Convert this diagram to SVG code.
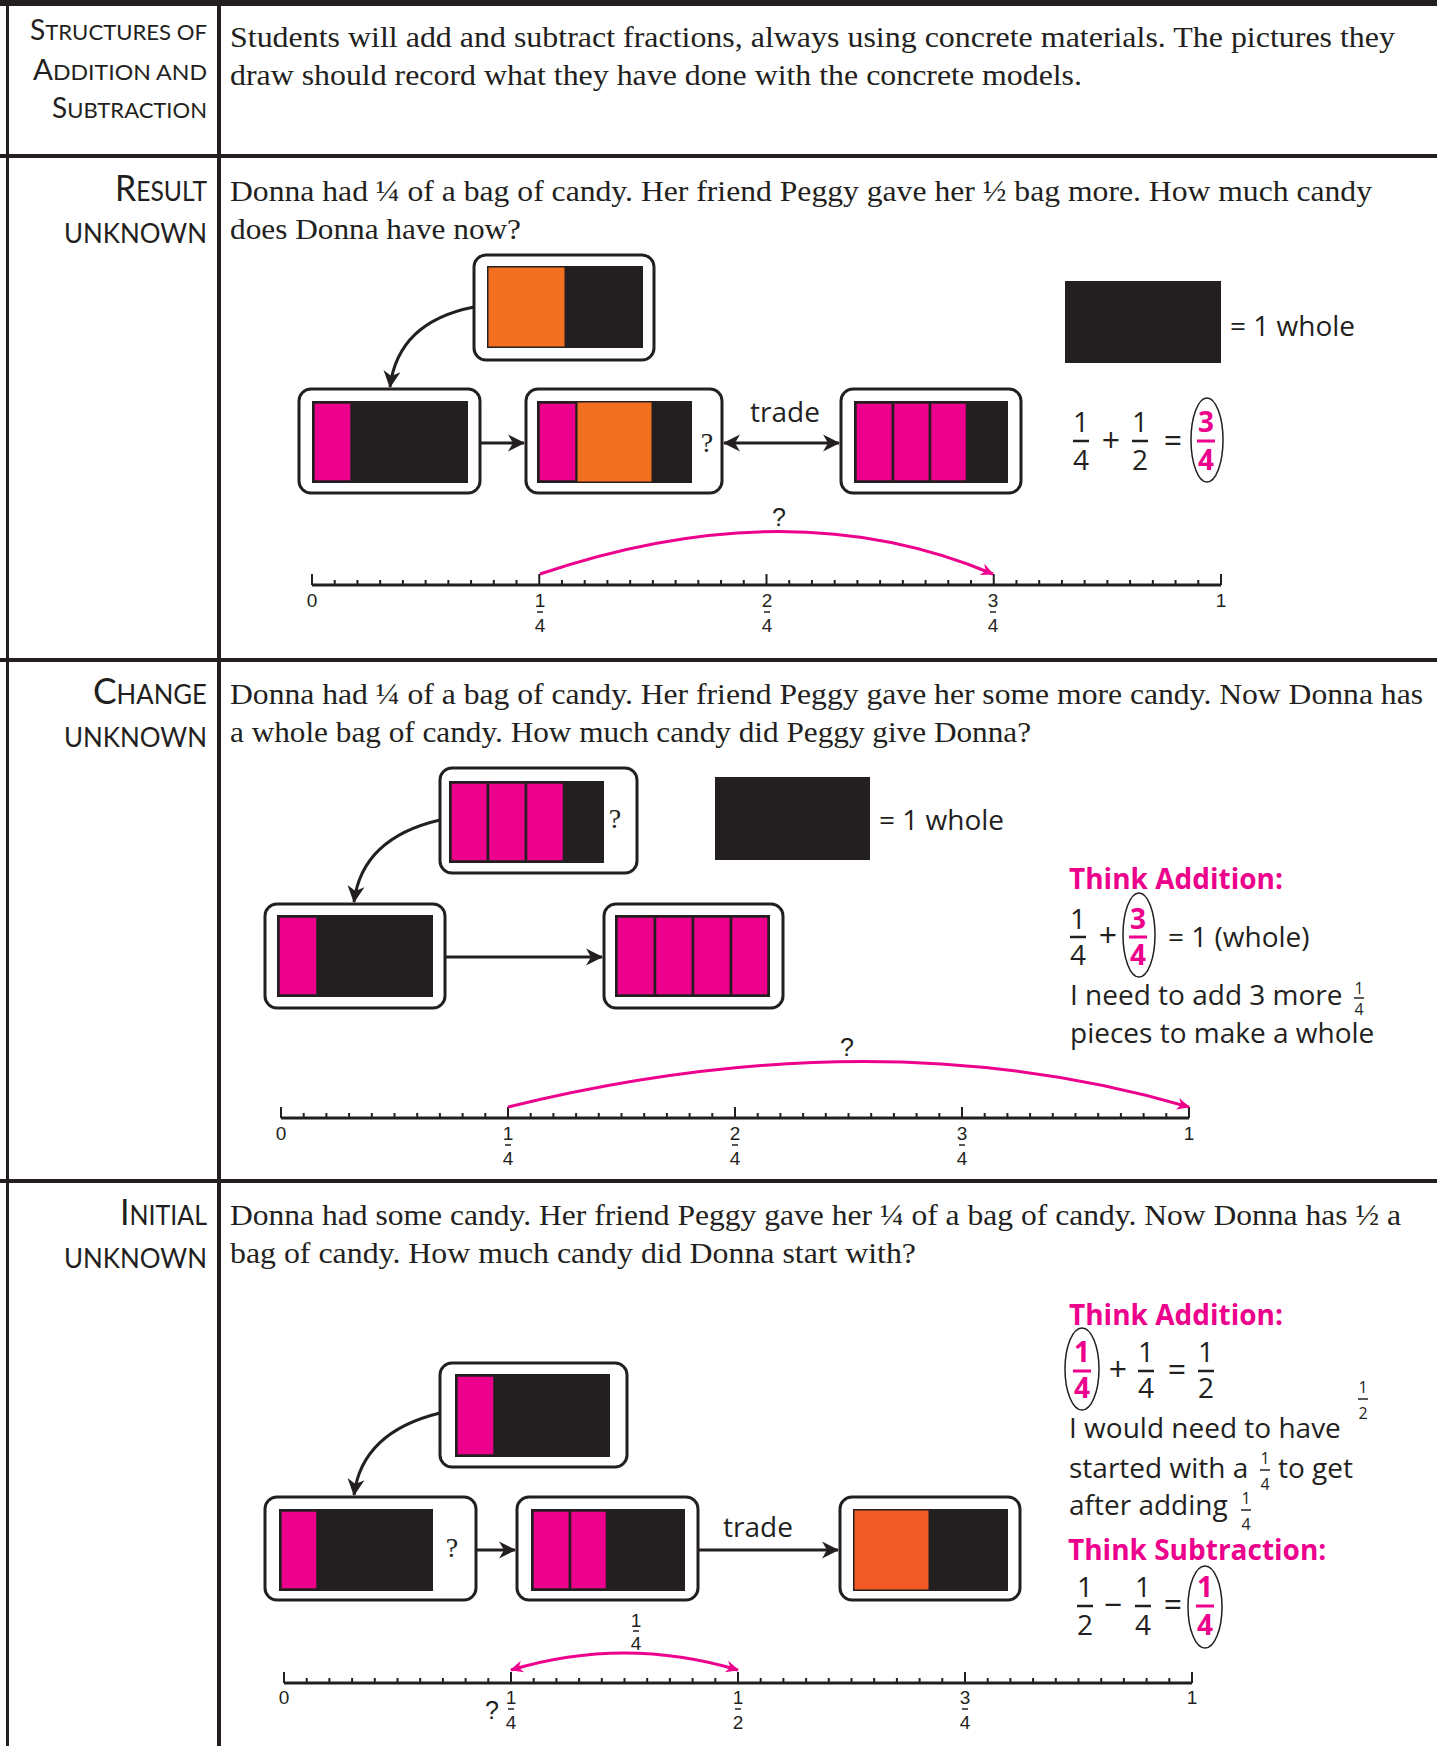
<svg xmlns="http://www.w3.org/2000/svg" width="1437" height="1746" viewBox="0 0 1437 1746">
  <style>
    .serif { font-family: "Liberation Serif", serif; font-size: 30px; fill: #231f20; }
    .lbl { font-family: Lato, "Liberation Sans", sans-serif; fill: #231f20; }
    .big { font-size: 37px; }
    .sc { font-size: 27px; }
    .hbig { font-size: 28px; }
    .hsc { font-size: 22px; }
    .sans { font-family: "Open Sans", "Noto Sans", sans-serif; font-size: 28px; fill: #231f20; }
    .frac { font-family: "Open Sans", "Noto Sans", sans-serif; font-size: 28px; fill: #231f20; text-anchor: middle; }
    .op { font-family: "Open Sans", "Noto Sans", sans-serif; font-size: 32px; fill: #231f20; text-anchor: middle; }
    .pfrac { font-family: "Open Sans", "Noto Sans", sans-serif; font-size: 28px; font-weight: 700; fill: #ec008c; text-anchor: middle; }
    .sfrac { font-family: "Open Sans", "Noto Sans", sans-serif; font-size: 16px; fill: #231f20; text-anchor: middle; }
    .head { font-family: "Open Sans", "Noto Sans", sans-serif; font-size: 28px; font-weight: 700; fill: #ec008c; }
    .nl { font-family: "Liberation Sans", sans-serif; font-size: 19px; fill: #231f20; text-anchor: middle; }
    .q { font-family: "Liberation Sans", sans-serif; font-size: 25px; fill: #231f20; text-anchor: middle; }
    .qs { font-family: "Liberation Serif", serif; font-size: 28px; fill: #231f20; text-anchor: middle; }
    .box { fill: #ffffff; stroke: #231f20; stroke-width: 3; }
    .blk { fill: #231f20; }
    .pk { fill: #ec008c; stroke: #231f20; stroke-width: 2.5; }
    .or { fill: #f37021; }
    .or2 { fill: #f15a24; }
    .bar { stroke: #231f20; stroke-width: 2.5; }
    .pbar { stroke: #ec008c; stroke-width: 3; }
    .sbar { stroke: #231f20; stroke-width: 1.5; }
    .ring { fill: none; stroke: #231f20; stroke-width: 1.5; }
    .rule { stroke: #231f20; fill: none; }
    .conn { stroke: #231f20; stroke-width: 3; fill: none; }
    .arc { stroke: #ec008c; stroke-width: 3; fill: none; }
    .axis { stroke: #231f20; stroke-width: 3; fill: none; }
    .tick { stroke: #231f20; stroke-width: 2; fill: none; }
  </style>
  <defs>
    <marker id="ah" viewBox="-18 -10 20 20" refX="0" refY="0" markerWidth="20" markerHeight="20" markerUnits="userSpaceOnUse" orient="auto-start-reverse">
      <path d="M1,0 L-16,-8.5 L-11,0 L-16,8.5 Z" fill="#231f20"/>
    </marker>
    <marker id="ahp" viewBox="-14 -8 16 16" refX="0" refY="0" markerWidth="16" markerHeight="16" markerUnits="userSpaceOnUse" orient="auto-start-reverse">
      <path d="M1,0 L-12,-6 L-8,0 L-12,6 Z" fill="#ec008c"/>
    </marker>
  </defs>

  <rect width="1437" height="1746" fill="#ffffff"/>

  <!-- table frame -->
  <g id="table">
    <rect x="0" y="0" width="1437" height="6" class="blk"/>
    <line x1="7.5" y1="0" x2="7.5" y2="1746" class="rule" stroke-width="3"/>
    <line x1="219" y1="0" x2="219" y2="1746" class="rule" stroke-width="4"/>
    <line x1="0" y1="156" x2="1437" y2="156" class="rule" stroke-width="4"/>
    <line x1="0" y1="660" x2="1437" y2="660" class="rule" stroke-width="4"/>
    <line x1="0" y1="1181" x2="1437" y2="1181" class="rule" stroke-width="4"/>
  </g>

  <!-- row labels -->
  <g id="labels" class="lbl" text-anchor="end">
    <text x="207" y="40" textLength="177" lengthAdjust="spacingAndGlyphs"><tspan class="hbig">S</tspan><tspan class="hsc">TRUCTURES OF</tspan></text>
    <text x="207" y="80" textLength="174" lengthAdjust="spacingAndGlyphs"><tspan class="hbig">A</tspan><tspan class="hsc">DDITION AND</tspan></text>
    <text x="207" y="118" textLength="155" lengthAdjust="spacingAndGlyphs"><tspan class="hbig">S</tspan><tspan class="hsc">UBTRACTION</tspan></text>
    <text x="207" y="201" textLength="92" lengthAdjust="spacingAndGlyphs"><tspan class="big">R</tspan><tspan class="sc">ESULT</tspan></text>
    <text x="207" y="243" class="sc" textLength="143" lengthAdjust="spacingAndGlyphs">UNKNOWN</text>
    <text x="207" y="704" textLength="114" lengthAdjust="spacingAndGlyphs"><tspan class="big">C</tspan><tspan class="sc">HANGE</tspan></text>
    <text x="207" y="747" class="sc" textLength="143" lengthAdjust="spacingAndGlyphs">UNKNOWN</text>
    <text x="207" y="1225" textLength="87" lengthAdjust="spacingAndGlyphs"><tspan class="big">I</tspan><tspan class="sc">NITIAL</tspan></text>
    <text x="207" y="1268" class="sc" textLength="143" lengthAdjust="spacingAndGlyphs">UNKNOWN</text>
  </g>

  <!-- story texts -->
  <g id="stories" class="serif">
    <text x="230" y="47" textLength="1165" lengthAdjust="spacingAndGlyphs">Students will add and subtract fractions, always using concrete materials.  The pictures they</text>
    <text x="230" y="85" textLength="852" lengthAdjust="spacingAndGlyphs">draw should record what they have done with the concrete models.</text>
    <text x="230" y="201" textLength="1142" lengthAdjust="spacingAndGlyphs">Donna had ¼ of a bag of candy. Her friend Peggy gave her ½ bag more. How much candy</text>
    <text x="230" y="239" textLength="291" lengthAdjust="spacingAndGlyphs">does Donna have now?</text>
    <text x="230" y="704" textLength="1193" lengthAdjust="spacingAndGlyphs">Donna had ¼ of a bag of candy. Her friend Peggy gave her some more candy. Now Donna has</text>
    <text x="230" y="742" textLength="801" lengthAdjust="spacingAndGlyphs">a whole bag of candy. How much candy did Peggy give Donna?</text>
    <text x="230" y="1225" textLength="1171" lengthAdjust="spacingAndGlyphs">Donna had some candy. Her friend Peggy gave her ¼ of a bag of candy. Now Donna has ½ a</text>
    <text x="230" y="1263" textLength="686" lengthAdjust="spacingAndGlyphs">bag of candy. How much candy did Donna start with?</text>
  </g>

  <!-- ===== Result unknown ===== -->
  <g id="r2-half">
    <rect x="474" y="255" width="180" height="105" rx="12" class="box"/>
    <rect x="487" y="266" width="156" height="82" class="blk"/>
    <rect x="488.5" y="267.5" width="76" height="79" class="or"/>
  </g>
  <g id="r2-start">
    <rect x="299" y="389" width="181" height="104" rx="12" class="box"/>
    <rect x="312" y="401" width="156" height="82" class="blk"/>
    <rect x="313.5" y="402.5" width="38" height="79" class="pk"/>
  </g>
  <g id="r2-sum">
    <rect x="526" y="389" width="196" height="104" rx="12" class="box"/>
    <rect x="537" y="401" width="155" height="82" class="blk"/>
    <rect x="538.5" y="402.5" width="38" height="79" class="pk"/>
    <rect x="577.5" y="402.5" width="74" height="79" class="or"/>
    <text x="707" y="452" class="qs">?</text>
  </g>
  <g id="r2-traded">
    <rect x="841" y="389" width="180" height="104" rx="12" class="box"/>
    <rect x="854" y="401" width="154" height="82" class="blk"/>
    <rect x="855.5" y="402.5" width="37.5" height="79" class="pk"/>
    <rect x="893" y="402.5" width="37" height="79" class="pk"/>
    <rect x="930" y="402.5" width="37" height="79" class="pk"/>
  </g>
  <g id="r2-whole">
    <rect x="1065" y="281" width="156" height="82" class="blk"/>
    <text x="1230" y="336" class="sans">= 1 whole</text>
  </g>
  <g id="r2-equation">
    <text x="1081" y="432" class="frac">1</text>
    <line x1="1073" y1="441" x2="1089" y2="441" class="bar"/>
    <text x="1081" y="470" class="frac">4</text>
    <text x="1111" y="452" class="op">+</text>
    <text x="1140" y="432" class="frac">1</text>
    <line x1="1132" y1="441" x2="1148" y2="441" class="bar"/>
    <text x="1140" y="470" class="frac">2</text>
    <text x="1173" y="452" class="op">=</text>
    <ellipse cx="1207" cy="440" rx="16" ry="42" class="ring"/>
    <text x="1206" y="432" class="pfrac">3</text>
    <line x1="1197" y1="441" x2="1215" y2="441" class="pbar"/>
    <text x="1206" y="470" class="pfrac">4</text>
  </g>
  <g id="r2-numberline">
    <line x1="312" y1="585" x2="1221" y2="585" class="axis"/>
    <path class="tick" d="M312,574v11m22.725,-5v5m22.725,-5v5m22.725,-5v5m22.725,-5v5m22.725,-5v5m22.725,-5v5m22.725,-5v5m22.725,-5v5m22.725,-5v5m22.725,-11v11m22.725,-5v5m22.725,-5v5m22.725,-5v5m22.725,-5v5m22.725,-5v5m22.725,-5v5m22.725,-5v5m22.725,-5v5m22.725,-5v5m22.725,-11v11m22.725,-5v5m22.725,-5v5m22.725,-5v5m22.725,-5v5m22.725,-5v5m22.725,-5v5m22.725,-5v5m22.725,-5v5m22.725,-5v5m22.725,-11v11m22.725,-5v5m22.725,-5v5m22.725,-5v5m22.725,-5v5m22.725,-5v5m22.725,-5v5m22.725,-5v5m22.725,-5v5m22.725,-5v5m22.725,-11v11"/>
    <text x="312" y="607" class="nl">0</text>
    <text x="540" y="607" class="nl">1</text>
    <line x1="537" y1="612" x2="543" y2="612" class="sbar"/>
    <text x="540" y="632" class="nl">4</text>
    <text x="767" y="607" class="nl">2</text>
    <line x1="764" y1="612" x2="770" y2="612" class="sbar"/>
    <text x="767" y="632" class="nl">4</text>
    <text x="993" y="607" class="nl">3</text>
    <line x1="990" y1="612" x2="996" y2="612" class="sbar"/>
    <text x="993" y="632" class="nl">4</text>
    <text x="1221" y="607" class="nl">1</text>
    <text x="779" y="526" class="q">?</text>
  </g>

  <!-- ===== Change unknown ===== -->
  <g id="r3-given">
    <rect x="440" y="768" width="197" height="105" rx="12" class="box"/>
    <rect x="449" y="781" width="155" height="82" class="blk"/>
    <rect x="450.5" y="782.5" width="37.5" height="79" class="pk"/>
    <rect x="488" y="782.5" width="38" height="79" class="pk"/>
    <rect x="526" y="782.5" width="38" height="79" class="pk"/>
    <text x="615" y="828" class="qs">?</text>
  </g>
  <g id="r3-start">
    <rect x="265" y="904" width="180" height="104" rx="12" class="box"/>
    <rect x="277" y="915" width="156" height="82" class="blk"/>
    <rect x="278.5" y="916.5" width="39" height="79" class="pk"/>
  </g>
  <g id="r3-result">
    <rect x="604" y="904" width="179" height="104" rx="12" class="box"/>
    <rect x="615" y="915" width="155" height="82" class="blk"/>
    <rect x="616.5" y="916.5" width="38.5" height="79" class="pk"/>
    <rect x="655" y="916.5" width="38" height="79" class="pk"/>
    <rect x="693" y="916.5" width="38" height="79" class="pk"/>
    <rect x="731" y="916.5" width="37.5" height="79" class="pk"/>
  </g>
  <g id="r3-whole">
    <rect x="715" y="777" width="155" height="83" class="blk"/>
    <text x="879" y="830" class="sans">= 1 whole</text>
  </g>
  <g id="r3-think">
    <text x="1069" y="889" class="head">Think Addition:</text>
    <text x="1078" y="929" class="frac">1</text>
    <line x1="1070" y1="937" x2="1086" y2="937" class="bar"/>
    <text x="1078" y="965" class="frac">4</text>
    <text x="1108" y="947" class="op">+</text>
    <ellipse cx="1139" cy="935" rx="16" ry="42" class="ring"/>
    <text x="1138" y="929" class="pfrac">3</text>
    <line x1="1129" y1="937" x2="1147" y2="937" class="pbar"/>
    <text x="1138" y="965" class="pfrac">4</text>
    <text x="1168" y="947" class="sans">= 1 (whole)</text>
    <text x="1070" y="1005" class="sans">I need to add 3 more</text>
    <text x="1359" y="994" class="sfrac">1</text>
    <line x1="1354" y1="998" x2="1364" y2="998" class="sbar"/>
    <text x="1359" y="1015" class="sfrac">4</text>
    <text x="1070" y="1043" class="sans">pieces to make a whole</text>
  </g>
  <g id="r3-numberline">
    <line x1="281" y1="1118" x2="1189" y2="1118" class="axis"/>
    <path class="tick" d="M281,1107v11m22.7,-5v5m22.7,-5v5m22.7,-5v5m22.7,-5v5m22.7,-5v5m22.7,-5v5m22.7,-5v5m22.7,-5v5m22.7,-5v5m22.7,-11v11m22.7,-5v5m22.7,-5v5m22.7,-5v5m22.7,-5v5m22.7,-5v5m22.7,-5v5m22.7,-5v5m22.7,-5v5m22.7,-5v5m22.7,-11v11m22.7,-5v5m22.7,-5v5m22.7,-5v5m22.7,-5v5m22.7,-5v5m22.7,-5v5m22.7,-5v5m22.7,-5v5m22.7,-5v5m22.7,-11v11m22.7,-5v5m22.7,-5v5m22.7,-5v5m22.7,-5v5m22.7,-5v5m22.7,-5v5m22.7,-5v5m22.7,-5v5m22.7,-5v5m22.7,-11v11"/>
    <text x="281" y="1140" class="nl">0</text>
    <text x="508" y="1140" class="nl">1</text>
    <line x1="505" y1="1145" x2="511" y2="1145" class="sbar"/>
    <text x="508" y="1165" class="nl">4</text>
    <text x="735" y="1140" class="nl">2</text>
    <line x1="732" y1="1145" x2="738" y2="1145" class="sbar"/>
    <text x="735" y="1165" class="nl">4</text>
    <text x="962" y="1140" class="nl">3</text>
    <line x1="959" y1="1145" x2="965" y2="1145" class="sbar"/>
    <text x="962" y="1165" class="nl">4</text>
    <text x="1189" y="1140" class="nl">1</text>
    <text x="847" y="1056" class="q">?</text>
  </g>

  <!-- ===== Initial unknown ===== -->
  <g id="r4-given">
    <rect x="440" y="1363" width="187" height="104" rx="12" class="box"/>
    <rect x="455" y="1374" width="155" height="83" class="blk"/>
    <rect x="456.5" y="1375.5" width="38" height="80" class="pk"/>
  </g>
  <g id="r4-start">
    <rect x="265" y="1497" width="211" height="103" rx="12" class="box"/>
    <rect x="279" y="1509" width="154" height="82" class="blk"/>
    <rect x="280.5" y="1510.5" width="37" height="79" class="pk"/>
    <text x="452" y="1557" class="qs">?</text>
  </g>
  <g id="r4-sum">
    <rect x="517" y="1497" width="181" height="103" rx="12" class="box"/>
    <rect x="531" y="1509" width="154" height="82" class="blk"/>
    <rect x="532.5" y="1510.5" width="37.5" height="79" class="pk"/>
    <rect x="570" y="1510.5" width="37" height="79" class="pk"/>
  </g>
  <g id="r4-traded">
    <rect x="840" y="1497" width="180" height="103" rx="12" class="box"/>
    <rect x="853" y="1509" width="155" height="82" class="blk"/>
    <rect x="854.5" y="1510.5" width="74" height="79" class="or2"/>
  </g>
  <g id="r4-think">
    <text x="1069" y="1325" class="head">Think Addition:</text>
    <ellipse cx="1082" cy="1369" rx="17" ry="41" class="ring"/>
    <text x="1082" y="1362" class="pfrac">1</text>
    <line x1="1073" y1="1371" x2="1091" y2="1371" class="pbar"/>
    <text x="1082" y="1398" class="pfrac">4</text>
    <text x="1118" y="1381" class="op">+</text>
    <text x="1146" y="1362" class="frac">1</text>
    <line x1="1138" y1="1371" x2="1154" y2="1371" class="bar"/>
    <text x="1146" y="1398" class="frac">4</text>
    <text x="1177" y="1381" class="op">=</text>
    <text x="1206" y="1362" class="frac">1</text>
    <line x1="1198" y1="1371" x2="1214" y2="1371" class="bar"/>
    <text x="1206" y="1398" class="frac">2</text>
    <text x="1363" y="1393" class="sfrac">1</text>
    <line x1="1358" y1="1399" x2="1368" y2="1399" class="sbar"/>
    <text x="1363" y="1419" class="sfrac">2</text>
    <text x="1069" y="1438" class="sans">I would need to have</text>
    <text x="1069" y="1478" class="sans">started with a</text>
    <text x="1265" y="1464" class="sfrac">1</text>
    <line x1="1260" y1="1470" x2="1270" y2="1470" class="sbar"/>
    <text x="1265" y="1490" class="sfrac">4</text>
    <text x="1278" y="1478" class="sans">to get</text>
    <text x="1069" y="1515" class="sans">after adding</text>
    <text x="1246" y="1504" class="sfrac">1</text>
    <line x1="1241" y1="1510" x2="1251" y2="1510" class="sbar"/>
    <text x="1246" y="1530" class="sfrac">4</text>
    <text x="1068" y="1560" class="head">Think Subtraction:</text>
    <text x="1085" y="1597" class="frac">1</text>
    <line x1="1077" y1="1606" x2="1093" y2="1606" class="bar"/>
    <text x="1085" y="1635" class="frac">2</text>
    <text x="1113" y="1616" class="op">−</text>
    <text x="1143" y="1597" class="frac">1</text>
    <line x1="1135" y1="1606" x2="1151" y2="1606" class="bar"/>
    <text x="1143" y="1635" class="frac">4</text>
    <text x="1173" y="1616" class="op">=</text>
    <ellipse cx="1205" cy="1607" rx="17" ry="41" class="ring"/>
    <text x="1205" y="1597" class="pfrac">1</text>
    <line x1="1196" y1="1606" x2="1214" y2="1606" class="pbar"/>
    <text x="1205" y="1635" class="pfrac">4</text>
  </g>
  <g id="r4-numberline">
    <line x1="284" y1="1683" x2="1192" y2="1683" class="axis"/>
    <path class="tick" d="M284,1672v11m22.7,-5v5m22.7,-5v5m22.7,-5v5m22.7,-5v5m22.7,-5v5m22.7,-5v5m22.7,-5v5m22.7,-5v5m22.7,-5v5m22.7,-11v11m22.7,-5v5m22.7,-5v5m22.7,-5v5m22.7,-5v5m22.7,-5v5m22.7,-5v5m22.7,-5v5m22.7,-5v5m22.7,-5v5m22.7,-11v11m22.7,-5v5m22.7,-5v5m22.7,-5v5m22.7,-5v5m22.7,-5v5m22.7,-5v5m22.7,-5v5m22.7,-5v5m22.7,-5v5m22.7,-11v11m22.7,-5v5m22.7,-5v5m22.7,-5v5m22.7,-5v5m22.7,-5v5m22.7,-5v5m22.7,-5v5m22.7,-5v5m22.7,-5v5m22.7,-11v11"/>
    <text x="284" y="1704" class="nl">0</text>
    <text x="492" y="1719" class="q">?</text>
    <text x="511" y="1704" class="nl">1</text>
    <line x1="508" y1="1709" x2="514" y2="1709" class="sbar"/>
    <text x="511" y="1729" class="nl">4</text>
    <text x="738" y="1704" class="nl">1</text>
    <line x1="735" y1="1709" x2="741" y2="1709" class="sbar"/>
    <text x="738" y="1729" class="nl">2</text>
    <text x="965" y="1704" class="nl">3</text>
    <line x1="962" y1="1709" x2="968" y2="1709" class="sbar"/>
    <text x="965" y="1729" class="nl">4</text>
    <text x="1192" y="1704" class="nl">1</text>
    <text x="636" y="1627" class="nl">1</text>
    <line x1="633" y1="1631" x2="639" y2="1631" class="sbar"/>
    <text x="636" y="1650" class="nl">4</text>
  </g>

  <!-- connectors -->
  <g id="connectors">
    <path d="M474,307 Q398,322 390,387" class="conn" marker-end="url(#ah)"/>
    <path d="M480,443 L524,443" class="conn" marker-end="url(#ah)"/>
    <path d="M724,443 L839,443" class="conn" marker-start="url(#ah)" marker-end="url(#ah)"/>
    <text x="785" y="422" class="sans" text-anchor="middle">trade</text>
    <path d="M540,574 Q791,489 993,574" class="arc" marker-end="url(#ahp)"/>

    <path d="M440,820 Q362,838 354,902" class="conn" marker-end="url(#ah)"/>
    <path d="M445,957 L602,957" class="conn" marker-end="url(#ah)"/>
    <path d="M508,1107 Q877,1016 1189,1107" class="arc" marker-end="url(#ahp)"/>

    <path d="M440,1413 Q362,1432 354,1495" class="conn" marker-end="url(#ah)"/>
    <path d="M476,1550 L515,1550" class="conn" marker-end="url(#ah)"/>
    <path d="M698,1550 L838,1550" class="conn" marker-end="url(#ah)"/>
    <text x="758" y="1537" class="sans" text-anchor="middle">trade</text>
    <path d="M511,1670 Q624,1636 738,1670" class="arc" marker-start="url(#ahp)" marker-end="url(#ahp)"/>
  </g>
</svg>
